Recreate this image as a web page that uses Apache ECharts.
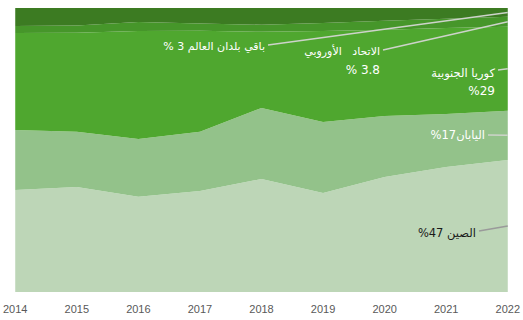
<!DOCTYPE html>
<html>
<head>
<meta charset="utf-8">
<script src="https://cdn.jsdelivr.net/npm/echarts@6/dist/echarts.min.js"></script>
<style>
html,body{margin:0;padding:0;background:#fff;}
#c{width:523px;height:320px;}
</style>
</head>
<body>
<div id="c"></div>
<script>
const years = ['2014','2015','2016','2017','2018','2019','2020','2021','2022'];
const china = [35.9, 37.0, 33.5, 35.6, 39.8, 34.9, 40.5, 44.0, 46.5];
const japan = [21.1, 19.4, 20.4, 20.8, 25.0, 25.0, 21.5, 18.7, 17.3];
const korea = [34.2, 34.9, 38.0, 35.6, 26.8, 32.0, 30.3, 30.3, 29.6];
const eu    = [2.5, 2.5, 3.2, 2.5, 2.5, 2.8, 3.2, 3.2, 3.5];
const rest  = [6.3, 6.2, 4.9, 5.5, 5.9, 5.3, 4.5, 3.8, 3.1];

const seriesNames = ['الصين', 'اليابان', 'كوريا الجنوبية', 'الاتحاد الأوروبي', 'باقي بلدان العالم'];
const seriesData = [china, japan, korea, eu, rest];
const colors = ['#bdd6b7', '#93c28a', '#4fa72f', '#46962a', '#3c7b22'];

const chart = echarts.init(document.getElementById('c'), null, {renderer: 'svg'});

chart.setOption({
  animation: false,
  grid: {left: 12, right: 12, top: 8, bottom: 28},
  xAxis: {
    type: 'category',
    data: years,
    boundaryGap: false,
    axisLine: {show: false},
    axisTick: {show: false},
    axisLabel: {color: '#595959', fontSize: 11, fontFamily: 'Liberation Sans', margin: 11}
  },
  yAxis: {type: 'value', min: 0, max: 100, show: false, splitLine: {show: false}},
  series: seriesData.map((d, i) => ({
    name: seriesNames[i],
    type: 'line',
    stack: 'total',
    data: d,
    symbol: 'none',
    lineStyle: {width: 0},
    areaStyle: {color: colors[i], opacity: 1},
    itemStyle: {color: colors[i]}
  }))
});

const last = years.length - 1;
let cum = 0;
const mids = seriesData.map(d => { const m = cum + d[last] / 2; cum += d[last]; return m; });
const pt = v => chart.convertToPixel({xAxisIndex: 0, yAxisIndex: 0}, [last, v]);

const lineCol = '#cdd3ca';
const fam = 'DejaVu Sans';
function txt(text, x, y, color, size) {
  return {type: 'text', x: x, y: y, z: 100,
    style: {text: text, fill: color, fontSize: size || 11, fontFamily: fam, align: 'right', verticalAlign: 'middle'}};
}
function line(x1, y1, p, color) {
  return {type: 'line', z: 100, shape: {x1: x1, y1: y1, x2: p[0], y2: p[1]},
    style: {stroke: color || lineCol, lineWidth: 1.5}};
}
const pRest = pt(mids[4]), pEu = pt(mids[3]), pKo = pt(mids[2]), pJa = pt(mids[1]), pCh = pt(mids[0]);

chart.setOption({
  graphic: {elements: [
    line(268, 45, pRest),
    txt('% 3 باقي بلدان العالم', 265, 46, '#ffffff', 11),
    line(383, 50, pEu),
    txt('الاتحاد   الأوروبي', 380, 51, '#ffffff', 11),
    txt('% 3.8', 380, 70, '#ffffff', 12),
    line(498, 70, pKo),
    txt('كوريا الجنوبية', 495, 73, '#ffffff', 11.5),
    txt('%29', 495, 91, '#ffffff', 12),
    line(488, 135, pJa),
    txt('%17اليابان', 485, 135, '#ffffff', 11.5),
    line(479, 231, pCh, '#9a9a9a'),
    txt('%47 الصين', 476, 233, '#1a1a1a', 11.5)
  ]}
});
</script>
</body>
</html>
